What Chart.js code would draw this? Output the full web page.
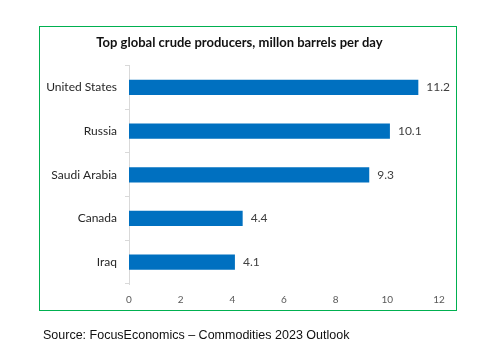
<!DOCTYPE html>
<html><head><meta charset="utf-8">
<script src="https://cdn.jsdelivr.net/npm/chart.js@4/dist/chart.umd.min.js"></script>
<style>
html,body{margin:0;padding:0;background:#fff;width:488px;height:354px;overflow:hidden;}
#wrap{position:absolute;left:0;top:0;width:488px;height:354px;}
#box{position:absolute;left:39px;top:26px;width:416px;height:283px;border:1.5px solid #00B050;pointer-events:none;}
#src{position:absolute;left:43px;top:328px;font-family:"Liberation Sans",sans-serif;font-size:12.5px;color:#111;white-space:nowrap;}
</style></head>
<body>
<div id="wrap"><canvas id="c" width="488" height="354"></canvas></div>
<div id="box"></div>
<div id="src">Source: FocusEconomics – Commodities 2023 Outlook</div>
<script>
const categories = ["United States", "Russia", "Saudi Arabia", "Canada", "Iraq"];
const production = [11.2, 10.1, 9.3, 4.4, 4.1];
const xTicks = [0, 2, 4, 6, 8, 10, 12];
const titleText = "Top global crude producers, millon barrels per day";

const valueLabels = {
  id: 'valueLabels',
  afterDatasetsDraw(chart) {
    const ctx = chart.ctx;
    const meta = chart.getDatasetMeta(0);
    ctx.save();
    ctx.font = '12px Lato, sans-serif';
    ctx.fillStyle = '#404040';
    ctx.textAlign = 'left';
    ctx.textBaseline = 'middle';
    meta.data.forEach((el, i) => {
      ctx.fillText(production[i].toFixed(1), el.x + 8, el.y);
    });
    ctx.restore();
  }
};

new Chart(document.getElementById('c'), {
  type: 'bar',
  data: {
    labels: categories,
    datasets: [{
      data: production,
      backgroundColor: '#0070C0',
      borderWidth: 0,
      categoryPercentage: 1,
      barPercentage: 0.35
    }]
  },
  options: {
    indexAxis: 'y',
    responsive: false,
    animation: false,
    layout: { padding: { left: 40, right: 49, top: 26, bottom: 43 } },
    plugins: {
      legend: { display: false },
      tooltip: { enabled: false },
      title: {
        display: true,
        text: titleText,
        color: '#111',
        font: { family: 'Lato, sans-serif', size: 13, weight: 'bold' },
        padding: { top: 9, bottom: 15 }
      }
    },
    scales: {
      x: {
        min: 0, max: 12,
        afterBuildTicks(scale) { scale.ticks = xTicks.map(v => ({ value: v })); },
        afterFit(scale) { scale.height = 27; },
        grid: { display: false, drawTicks: false },
        border: { display: false },
        ticks: { padding: 10, color: '#595959', font: { family: 'Lato, sans-serif', size: 10 } }
      },
      y: {
        afterFit(scale) { scale.width = 89; },
        grid: { offset: true, drawOnChartArea: false, drawTicks: true, tickLength: 4, color: '#d9d9d9' },
        border: { display: true, color: '#d9d9d9' },
        ticks: { padding: 8, color: '#262626', font: { family: 'Lato, sans-serif', size: 12 } }
      }
    }
  },
  plugins: [valueLabels]
});
</script>
</body></html>
